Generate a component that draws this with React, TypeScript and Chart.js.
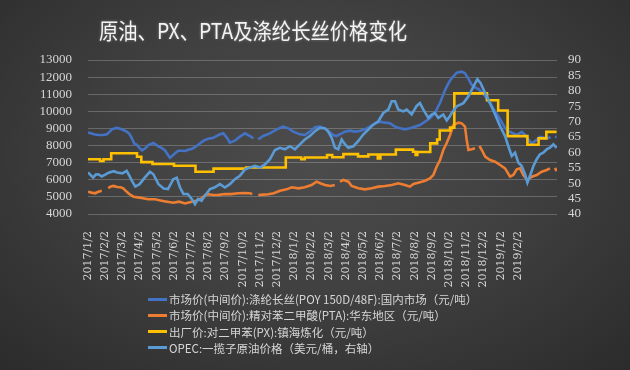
import React, { useEffect, useRef } from "react";
import { Chart, registerables } from "chart.js";

Chart.register(...registerables);

const titleText = "原油、PX、PTA及涤纶长丝价格变化";

const monthLabels = [
  "2017/1/2", "2017/2/2", "2017/3/2", "2017/4/2", "2017/5/2", "2017/6/2",
  "2017/7/2", "2017/8/2", "2017/9/2", "2017/10/2", "2017/11/2", "2017/12/2",
  "2018/1/2", "2018/2/2", "2018/3/2", "2018/4/2", "2018/5/2", "2018/6/2",
  "2018/7/2", "2018/8/2", "2018/9/2", "2018/10/2", "2018/11/2", "2018/12/2",
  "2019/1/2", "2019/2/2",
];

const leftTicks = { min: 4000, max: 13000, step: 1000 };
const rightTicks = { min: 40, max: 90, step: 5 };

const seriesNames = [
  "市场价(中间价):涤纶长丝(POY 150D/48F):国内市场（元/吨）",
  "市场价(中间价):精对苯二甲酸(PTA):华东地区（元/吨）",
  "出厂价:对二甲苯(PX):镇海炼化（元/吨）",
  "OPEC:一揽子原油价格（美元/桶，右轴）",
];

// [month offset from 2017/1/2, value]
const poyPrices: [number, number | null][] = [
  [0, 8770], [0.2, 8700], [0.41, 8650], [0.6, 8620], [0.89, 8620], [1.1, 8660], [1.25, 8800],
  [1.38, 8950], [1.67, 9030], [1.96, 8950], [2.25, 8810], [2.4, 8700], [2.54, 8450], [2.7, 8100],
  [2.83, 8050], [3.0, 7850], [3.15, 7720], [3.35, 7850], [3.51, 8030], [3.8, 8150], [4.09, 7950],
  [4.3, 7850], [4.48, 7720], [4.65, 7450], [4.77, 7280], [4.9, 7400], [5.06, 7550], [5.25, 7700],
  [5.45, 7700], [5.65, 7680], [5.83, 7750], [6.02, 7800], [6.22, 7900], [6.41, 8050], [6.61, 8200],
  [6.8, 8330], [7.0, 8400], [7.29, 8450], [7.58, 8617], [7.87, 8714], [8.0, 8550], [8.1, 8422],
  [8.25, 8168], [8.54, 8285], [8.83, 8519], [9.13, 8714], [9.42, 8558], [9.61, 8422], [9.75, null],
  [9.9, 8363], [10.19, 8558], [10.58, 8714], [10.97, 8948], [11.35, 9104], [11.65, 9006],
  [11.94, 8811], [12.32, 8656], [12.61, 8617], [12.9, 8811], [13.2, 9065], [13.49, 9104],
  [13.78, 9006], [14.0, 8812], [14.26, 8617], [14.45, 8558], [14.75, 8714], [14.94, 8812],
  [15.23, 8870], [15.52, 8812], [15.81, 8850], [16.1, 8948], [16.4, 9104], [16.69, 9299],
  [16.98, 9396], [17.27, 9338], [17.56, 9299], [17.85, 9104], [18.14, 9007], [18.43, 8948],
  [18.72, 9007], [19.0, 9104], [19.3, 9201], [19.6, 9396], [19.88, 9591], [20.17, 9900],
  [20.47, 10500], [20.66, 11000], [20.86, 11450], [21.05, 11800], [21.25, 12050], [21.44, 12260],
  [21.73, 12318], [21.92, 12221], [22.12, 11900], [22.31, 11550], [22.5, 11400], [22.7, 11300],
  [22.9, 11100], [23.09, 10900], [23.28, 10600], [23.57, 10150], [23.86, 9700], [24.15, 9200],
  [24.35, 8900], [24.64, 8750], [24.93, 8620], [25.22, 8800], [25.41, 8620], [25.6, 8350],
  [25.8, 8130], [26.09, 8330], [26.28, 8500], [26.67, 8420], [26.9, 8480], [27.0, null],
  [27.15, 8520], [27.25, 8500],
];

const ptaPrices: [number, number | null][] = [
  [0, 5300], [0.2, 5250], [0.41, 5210], [0.6, 5300], [0.8, 5360], [0.9, null], [1.18, 5500],
  [1.3, 5600], [1.47, 5640], [1.7, 5580], [1.9, 5560], [2.05, 5500], [2.2, 5350], [2.35, 5210],
  [2.5, 5100], [2.64, 5010], [2.9, 4970], [3.2, 4915], [3.5, 4860], [3.9, 4860], [4.28, 4780],
  [4.6, 4720], [4.96, 4660], [5.3, 4720], [5.64, 4620], [6.03, 4720], [6.3, 4780], [6.61, 4915],
  [6.8, 5100], [7.0, 5150], [7.3, 5110], [7.6, 5120], [7.96, 5170], [8.3, 5160], [8.74, 5210],
  [9.1, 5230], [9.42, 5210], [9.55, 5160], [9.7, null], [9.9, 5110], [10.2, 5130], [10.48, 5150],
  [10.8, 5210], [11.16, 5360], [11.55, 5440], [11.85, 5560], [12.23, 5500], [12.6, 5560],
  [13.0, 5695], [13.29, 5890], [13.5, 5800], [13.78, 5700], [14.1, 5640], [14.35, 5700],
  [14.5, null], [14.65, 5890], [14.85, 5987], [15.14, 5890], [15.33, 5636], [15.72, 5500],
  [16.1, 5442], [16.5, 5500], [16.88, 5598], [17.27, 5636], [17.66, 5695], [18.04, 5792],
  [18.43, 5695], [18.72, 5598], [18.92, 5754], [19.2, 5831], [19.6, 5948], [19.88, 6085],
  [20.08, 6279], [20.27, 6766], [20.47, 7156], [20.66, 7740], [20.85, 8130], [21.05, 8617],
  [21.24, 9201], [21.54, 9338], [21.73, 9299], [21.92, 9104], [22.02, 8325], [22.12, 7740],
  [22.31, 7780], [22.5, 7838], [22.6, null], [22.76, 7974], [22.9, 7740], [23.09, 7351],
  [23.38, 7156], [23.67, 7059], [23.96, 6864], [24.25, 6669], [24.54, 6182], [24.73, 6279],
  [24.93, 6610], [25.12, 6669], [25.31, 6279], [25.55, 5987], [25.8, 6182], [26.09, 6279],
  [26.38, 6474], [26.67, 6571], [26.86, 6669], [27.0, null], [27.15, 6700], [27.25, 6500],
];

// step changes of the PX ex-works price
const pxPrices: [number, number][] = [
  [0, 7200], [0.7, 7100], [0.9, 7200], [1.35, 7550], [2.85, 7350], [3.1, 7030], [3.75, 6920],
  [5.0, 6820], [6.25, 6470], [7.3, 6650], [9.2, 6720], [11.5, 7300], [12.4, 7200], [12.6, 7300],
  [13.9, 7450], [14.2, 7320], [14.85, 7500], [15.7, 7370], [16.3, 7480], [16.85, 7250],
  [17.0, 7480], [17.9, 7760], [18.9, 7640], [19.05, 7450], [19.15, 7620], [19.9, 8130],
  [20.3, 8350], [20.45, 8880], [21.05, 9050], [21.3, 11050], [23.2, 10650], [23.85, 10050],
  [24.4, 8550], [25.55, 8050], [26.2, 8420], [26.65, 8800], [27.25, 8800],
];

const opecPrices: [number, number][] = [
  [0, 53.5], [0.3, 51.8], [0.45, 52.8], [0.6, 52.9], [0.8, 52.2], [1.0, 52.8], [1.2, 53.4],
  [1.5, 53.9], [1.7, 53.5], [2.0, 53.2], [2.25, 54.0], [2.4, 52.5], [2.55, 50.8], [2.75, 48.9],
  [3.0, 49.7], [3.3, 51.8], [3.6, 53.7], [3.8, 52.9], [4.1, 49.7], [4.4, 48.3], [4.65, 48.1],
  [4.96, 51.3], [5.16, 51.8], [5.35, 48.6], [5.55, 46.5], [5.8, 46.5], [6.03, 44.9], [6.22, 43.2],
  [6.4, 44.9], [6.6, 44.3], [6.8, 45.9], [7.09, 48.1], [7.35, 48.6], [7.67, 49.7], [7.96, 48.6],
  [8.25, 49.7], [8.54, 51.3], [8.83, 52.4], [9.13, 54.5], [9.42, 55.1], [9.71, 55.6], [10.0, 55.1],
  [10.29, 56.1], [10.58, 57.8], [10.87, 60.8], [11.16, 61.5], [11.45, 61.0], [11.74, 62.0],
  [12.03, 61.0], [12.32, 62.6], [12.61, 64.2], [12.9, 65.3], [13.2, 66.9], [13.49, 68.0],
  [13.78, 67.8], [13.95, 66.9], [14.17, 64.7], [14.36, 61.5], [14.55, 61.0], [14.75, 64.2],
  [14.95, 62.6], [15.14, 61.5], [15.43, 62.0], [15.72, 63.7], [16.0, 65.8], [16.3, 67.4],
  [16.59, 69.0], [16.88, 70.1], [17.17, 72.8], [17.46, 73.9], [17.66, 76.6], [17.85, 76.6],
  [18.04, 73.9], [18.33, 73.3], [18.53, 73.9], [18.82, 72.3], [19.1, 75.0], [19.3, 76.0],
  [19.5, 73.9], [19.79, 71.2], [19.98, 72.3], [20.17, 72.8], [20.37, 71.2], [20.66, 72.3],
  [20.86, 70.4], [21.05, 71.8], [21.15, 72.8], [21.44, 75.0], [21.83, 76.0], [22.12, 78.2],
  [22.41, 81.4], [22.64, 83.8], [22.83, 82.5], [23.09, 79.3], [23.38, 76.0], [23.67, 72.3],
  [23.96, 68.5], [24.25, 65.3], [24.44, 62.0], [24.64, 58.8], [24.83, 59.9], [25.02, 56.7],
  [25.22, 55.6], [25.41, 52.9], [25.55, 50.2], [25.7, 52.4], [25.9, 55.6], [26.09, 57.8],
  [26.28, 59.4], [26.48, 59.9], [26.67, 61.0], [26.86, 61.5], [27.06, 62.6], [27.25, 61.5],
];

const colors = ["#4472C4", "#ED7D31", "#FFC000", "#5B9BD5"];

const titlePlugin = {
  id: "customTitle",
  afterDraw(chart: any) {
    const ctx = chart.ctx;
    ctx.save();
    ctx.translate(253, 31);
    ctx.scale(0.92, 1.05);
    ctx.font = '21px "Noto Sans CJK SC", sans-serif';
    ctx.fillStyle = "#f4f4f4";
    ctx.textAlign = "center";
    ctx.textBaseline = "middle";
    ctx.shadowColor = "rgba(255,255,255,0.35)";
    ctx.shadowBlur = 3;
    ctx.fillText(titleText, 0, 0);
    ctx.restore();
  },
};

export default function App() {
  const canvasRef = useRef<HTMLCanvasElement | null>(null);

  useEffect(() => {
    if (!canvasRef.current) return;
    const chart = new Chart(canvasRef.current, {
      type: "line",
      data: {
        datasets: [
          { label: seriesNames[0], data: poyPrices as any, borderColor: colors[0], yAxisID: "y", order: 4 },
          { label: seriesNames[1], data: ptaPrices as any, borderColor: colors[1], yAxisID: "y", order: 3 },
          { label: seriesNames[2], data: pxPrices as any, borderColor: colors[2], yAxisID: "y", stepped: "before", order: 2 },
          { label: seriesNames[3], data: opecPrices as any, borderColor: colors[3], yAxisID: "y1", order: 1 },
        ].map((d) => ({ ...d, borderWidth: 2.6, pointRadius: 0, tension: 0, spanGaps: false, fill: false })),
      },
      options: {
        animation: false,
        responsive: false,
        layout: { padding: { top: 60, bottom: 70, left: 0, right: 0 } },
        plugins: { legend: { display: false }, title: { display: false }, tooltip: { enabled: false } },
        scales: {
          x: {
            type: "linear",
            min: 0,
            max: 27.27,
            grid: { display: false },
            border: { display: false },
            afterBuildTicks: (scale: any) => {
              scale.ticks = monthLabels.map((_, i) => ({ value: i }));
            },
            afterFit: (scale: any) => {
              scale.height = 86;
            },
            ticks: {
              autoSkip: false,
              minRotation: 90,
              maxRotation: 90,
              padding: 9,
              color: "#d6d6d6",
              font: { family: '"DejaVu Serif", serif', size: 11 },
              callback: (v: any) => monthLabels[Math.round(Number(v))] ?? "",
            },
          },
          y: {
            position: "left",
            min: leftTicks.min,
            max: leftTicks.max,
            afterFit: (scale: any) => {
              scale.width = 88;
            },
            grid: { color: "rgba(255,255,255,0.22)", lineWidth: 1, drawTicks: false },
            border: { display: false },
            ticks: {
              stepSize: leftTicks.step,
              autoSkip: false,
              padding: 16,
              color: "#d6d6d6",
              font: { family: '"Liberation Serif", serif', size: 13 },
              callback: (v: any) => String(v),
            },
          },
          y1: {
            position: "right",
            min: rightTicks.min,
            max: rightTicks.max,
            afterFit: (scale: any) => {
              scale.width = 73;
            },
            grid: { display: false, drawTicks: false },
            border: { display: false },
            ticks: {
              stepSize: rightTicks.step,
              autoSkip: false,
              padding: 11,
              color: "#d6d6d6",
              font: { family: '"Liberation Serif", serif', size: 13 },
              callback: (v: any) => String(v),
            },
          },
        },
      },
      plugins: [titlePlugin],
    } as any);
    return () => chart.destroy();
  }, []);

  return (
    <div
      style={{
        position: "fixed",
        left: 0,
        top: 0,
        width: 630,
        height: 370,
        overflow: "hidden",
        background:
          "radial-gradient(ellipse 70% 80% at 50% 42%, #4c4c4c 0%, #414141 45%, #2c2c2c 100%)",
      }}
    >
      <canvas ref={canvasRef} width={630} height={370} style={{ position: "absolute", left: 0, top: 0 }} />
      {seriesNames.map((name, i) => (
        <div
          key={name}
          style={{
            position: "absolute",
            left: 148,
            top: 291 + i * 16.3,
            height: 16,
            display: "flex",
            alignItems: "center",
            whiteSpace: "nowrap",
            fontFamily: '"Noto Sans CJK SC", sans-serif',
            fontSize: 11.5,
            color: "#d6d6d6",
          }}
        >
          <span style={{ display: "inline-block", width: 19, height: 3, background: colors[i], marginRight: 2 }} />
          <span>{name}</span>
        </div>
      ))}
    </div>
  );
}
